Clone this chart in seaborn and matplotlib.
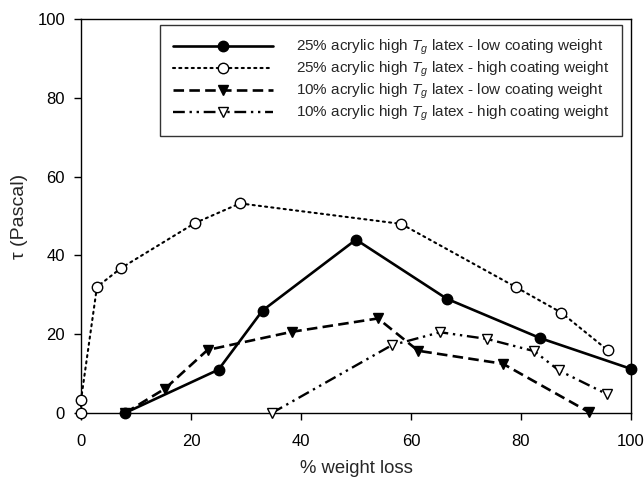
import matplotlib
matplotlib.use("Agg")
import matplotlib.pyplot as plt
import seaborn as sns
import pandas as pd

# ---- data ----
x_25_low = [8, 25, 33, 50, 66.5, 83.5, 100]
y_25_low = [0, 11, 26, 44, 29, 19, 11.2]

x_25_high = [0, 0, 2.9, 7.3, 20.7, 28.9, 58.2, 79, 87.3, 95.8]
y_25_high = [0, 3.3, 32, 36.8, 48.2, 53.2, 48, 32, 25.5, 15.9]

x_10_low = [8, 15.3, 23, 38.3, 54, 61.3, 76.7, 92.4]
y_10_low = [0, 6.2, 16, 20.6, 24, 15.8, 12.5, 0.2]

x_10_high = [34.7, 56.5, 65.3, 73.8, 82.4, 86.9, 95.6]
y_10_high = [0, 17.2, 20.5, 18.8, 15.7, 10.8, 4.8]

labels = [
    r"25% acrylic high $T_g$ latex - low coating weight",
    r"25% acrylic high $T_g$ latex - high coating weight",
    r"10% acrylic high $T_g$ latex - low coating weight",
    r"10% acrylic high $T_g$ latex - high coating weight",
]
x_ticks = [0, 20, 40, 60, 80, 100]
y_ticks = [0, 20, 40, 60, 80, 100]

sns.set_theme(style="ticks")
plt.rcParams['font.family'] = ['Liberation Sans', 'DejaVu Sans']
plt.rcParams['mathtext.fontset'] = 'custom'
plt.rcParams['mathtext.it'] = 'Liberation Sans:italic'
plt.rcParams['mathtext.rm'] = 'Liberation Sans'

fig = plt.figure(figsize=(6.44, 4.79), dpi=100)
ax = fig.add_axes([81/644, 1-413/479, 550/644, 394/479])

series = [
    (x_25_low, y_25_low, dict(linestyle='-', marker='o', markerfacecolor='black', linewidth=1.9)),
    (x_25_high, y_25_high, dict(linestyle=(0, (1, 2.0)), marker='o', markerfacecolor='white', linewidth=1.5, dash_capstyle='round')),
    (x_10_low, y_10_low, dict(linestyle=(0, (4, 2)), marker='v', markerfacecolor='black', linewidth=1.9)),
    (x_10_high, y_10_high, dict(linestyle=(0, (5, 2, 1, 2, 1, 2)), marker='v', markerfacecolor='white', linewidth=1.7)),
]
for (xs, ys, kw), lab in zip(series, labels):
    df = pd.DataFrame({"x": xs, "y": ys})
    sns.lineplot(data=df, x="x", y="y", ax=ax, color='black', estimator=None, sort=False,
                 markersize=7.5, markeredgecolor='black', markeredgewidth=1.0,
                 label=lab, clip_on=False, zorder=3, **kw)

ax.set_xlim(0, 100)
ax.set_ylim(0, 100)
ax.set_xticks(x_ticks)
ax.set_yticks(y_ticks)
ax.tick_params(axis='both', direction='out', length=5, width=1, labelsize=12, colors='black')
ax.tick_params(axis='y', pad=6.5)
ax.tick_params(axis='x', pad=10)
ax.tick_params(top=False, right=False)
for s in ax.spines.values():
    s.set_visible(True)
    s.set_color('black')
    s.set_linewidth(1.0)
ax.set_xlabel("% weight loss", fontsize=13.3)
ax.set_ylabel("τ (Pascal)", fontsize=14)
ax.xaxis.set_label_coords(0.5, (413 - 460) / 394)
ax.yaxis.set_label_coords((28 - 81) / 550, 0.5)

leg = ax.legend(loc='upper right', bbox_to_anchor=(0.9836, 0.9848), borderaxespad=0,
                fontsize=11, frameon=True, fancybox=False, edgecolor='black',
                handlelength=6.5, handletextpad=1.5, borderpad=0.85, labelspacing=0.18)
leg.get_frame().set_linewidth(1.0)

fig.savefig("out.png", dpi=100)
